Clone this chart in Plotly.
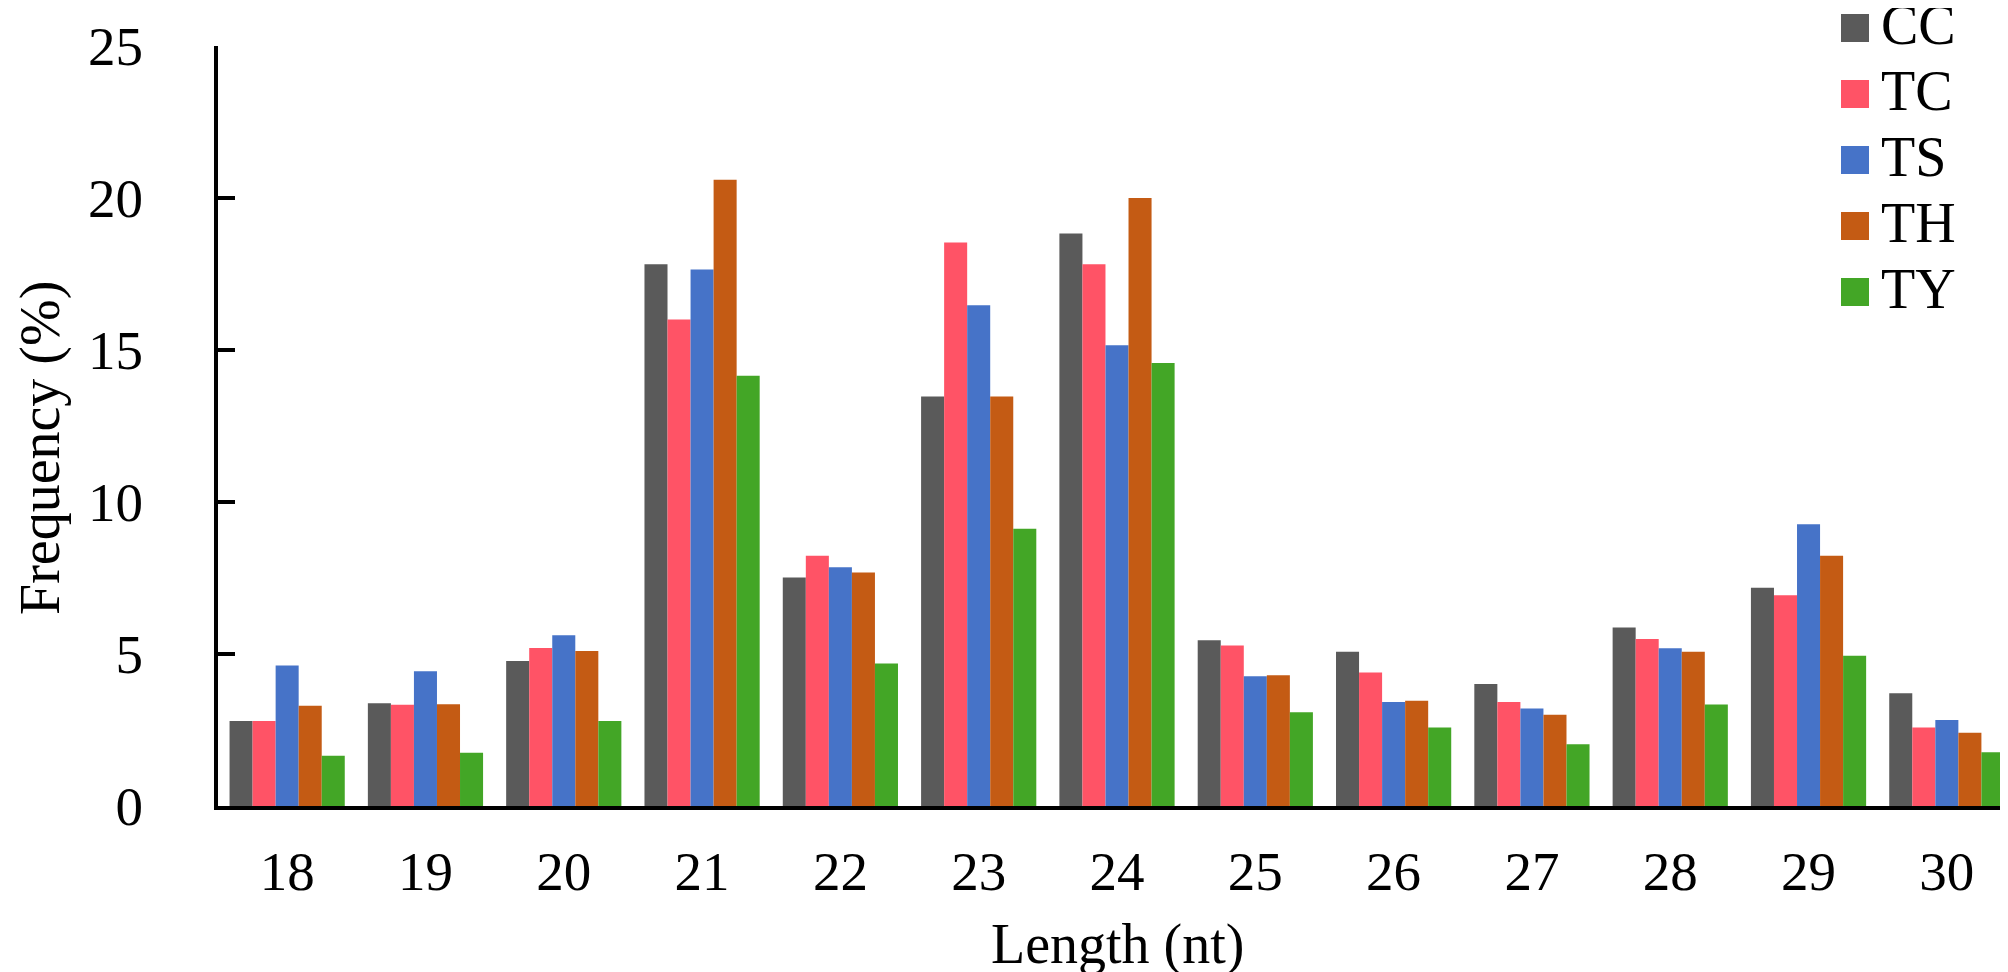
import plotly.graph_objects as go

lengths = ["18", "19", "20", "21", "22", "23", "24", "25", "26", "27", "28", "29", "30"]

cc = [2.8, 3.38, 4.77, 17.82, 7.52, 13.47, 18.83, 5.45, 5.07, 4.01, 5.87, 7.18, 3.71]
tc = [2.8, 3.33, 5.2, 16.0, 8.23, 18.54, 17.82, 5.28, 4.39, 3.42, 5.49, 6.93, 2.58]
ts = [4.62, 4.43, 5.62, 17.65, 7.85, 16.47, 15.16, 4.27, 3.42, 3.21, 5.19, 9.27, 2.83]
th = [3.3, 3.35, 5.1, 20.6, 7.68, 13.47, 20.0, 4.3, 3.46, 3.0, 5.07, 8.23, 2.41]
ty = [1.65, 1.75, 2.8, 14.15, 4.69, 9.12, 14.57, 3.08, 2.58, 2.03, 3.34, 4.94, 1.77]

names = ["CC", "TC", "TS", "TH", "TY"]
colors = ["#5a5a5a", "#ff5366", "#4673c8", "#c45b14", "#43a626"]
series = [cc, tc, ts, th, ty]

W, H = 2008, 972
L, R, T, B = 210, 0, 38, 174
FONT = "Liberation Serif, Times New Roman, serif"


def px_x(p):
    return (p - L) / (W - L - R)


def px_y(p):
    return (H - B - p) / (H - T - B)


fig = go.Figure()
for name, vals, col in zip(names, series, colors):
    fig.add_trace(go.Bar(x=lengths, y=vals, name=name, marker_color=col,
                         marker_line_width=0, showlegend=False))

# legend drawn by hand so the squares can be as big as in the original
shapes = []
annotations = []
for i, (name, col) in enumerate(zip(names, colors)):
    cy = 20 + 66 * i
    shapes.append(dict(type="rect", xref="paper", yref="paper",
                       x0=px_x(1833), x1=px_x(1861), y0=px_y(cy + 14), y1=px_y(cy - 14),
                       fillcolor=col, line_width=0))
    annotations.append(dict(text=name, xref="paper", yref="paper", x=px_x(1871), y=px_y(cy - 3),
                            xanchor="left", yanchor="middle", showarrow=False,
                            font=dict(size=56, color="black", family=FONT)))

annotations.append(dict(text="Length (nt)", xref="paper", yref="paper", x=0.5, y=px_y(936),
                        xanchor="center", yanchor="middle", showarrow=False,
                        font=dict(size=56, color="black", family=FONT)))
annotations.append(dict(text="Frequency (%)", xref="paper", yref="paper", x=px_x(32), y=px_y(440),
                        xanchor="center", yanchor="middle", showarrow=False, textangle=-90,
                        font=dict(size=56, color="black", family=FONT)))

fig.update_layout(
    width=W, height=H,
    margin=dict(l=L, r=R, t=T, b=B),
    barmode="group", bargap=0.167, bargroupgap=0,
    plot_bgcolor="white", paper_bgcolor="white",
    font=dict(family=FONT, size=55, color="black"),
    shapes=shapes, annotations=annotations,
)
fig.update_xaxes(showline=True, linecolor="black", linewidth=4, ticks="",
                 showgrid=False, zeroline=False, ticklabelstandoff=14,
                 tickfont=dict(size=55, family=FONT))
fig.update_yaxes(range=[0, 25], tickvals=[0, 5, 10, 15, 20, 25], showline=True,
                 linecolor="black", linewidth=4, ticks="inside", ticklen=17, tickwidth=4,
                 tickcolor="black", showgrid=False, zeroline=False, ticklabelstandoff=60,
                 tickfont=dict(size=55, family=FONT))

fig.write_html("out.html")
